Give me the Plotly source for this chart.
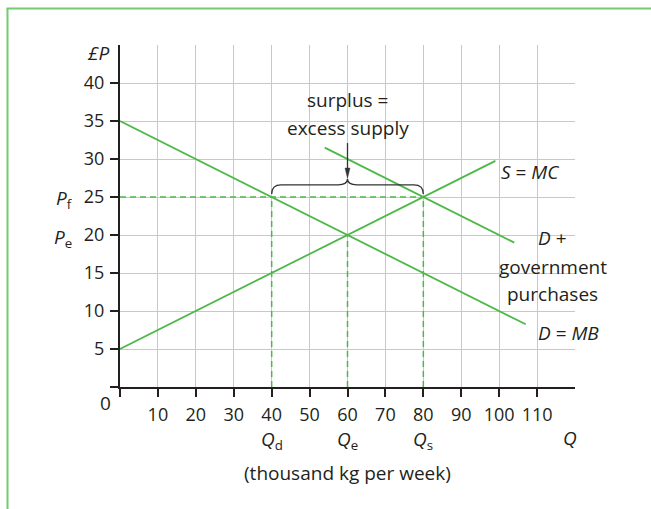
import plotly.graph_objects as go

# ---- data ----
x_ticks = [10, 20, 30, 40, 50, 60, 70, 80, 90, 100, 110]
x_ticktext = ["10", "20", "30", "40", "50", "60", "70", "80", "90", "100", "110"]
y_ticks = [5, 10, 15, 20, 25, 30, 35, 40]
y_ticktext = ["5", "10", "15", "20", "25", "30", "35", "40"]

demand_q = [0, 107]
demand_p = [35, 8.25]
supply_q = [0, 99]
supply_p = [5, 29.75]
demand_gov_q = [54, 104]
demand_gov_p = [31.5, 19]

Qd, Qe, Qs = 40, 60, 80
Pf, Pe = 25, 20

GREEN = "#4db848"
FONT = "Open Sans"
TXT = "#231f20"
L, R, T, B = 120, 76, 45, 122
W, H = 651, 509
PW, PH = W - L - R, H - T - B

def px(x):
    return (x - L) / PW

def py(y):
    return (H - B - y) / PH

fig = go.Figure()

line_style = dict(color=GREEN, width=1.8)
fig.add_trace(go.Scatter(x=demand_q, y=demand_p, mode="lines", line=line_style, hoverinfo="skip"))
fig.add_trace(go.Scatter(x=supply_q, y=supply_p, mode="lines", line=line_style, hoverinfo="skip"))
fig.add_trace(go.Scatter(x=demand_gov_q, y=demand_gov_p, mode="lines", line=line_style, hoverinfo="skip"))

dash_style = dict(color=GREEN, width=1.5, dash="6px,4px")
fig.add_trace(go.Scatter(x=[0, Qs], y=[Pf, Pf], mode="lines", line=dash_style, hoverinfo="skip"))
fig.add_trace(go.Scatter(x=[Qd, Qd], y=[0, Pf], mode="lines", line=dash_style, hoverinfo="skip"))
fig.add_trace(go.Scatter(x=[Qe, Qe], y=[0, Pe], mode="lines", line=dash_style, hoverinfo="skip"))
fig.add_trace(go.Scatter(x=[Qs, Qs], y=[0, Pf], mode="lines", line=dash_style, hoverinfo="skip"))

# brace over surplus
b0, b1, b2 = Pf + 0.4, Pf + 1.6, Pf + 2.4
mid = (Qd + Qs) / 2
brace = (f"M {Qd},{b0} Q {Qd},{b1} {Qd+2.5},{b1} L {mid-2.5},{b1} "
         f"Q {mid},{b1} {mid},{b2} Q {mid},{b1} {mid+2.5},{b1} "
         f"L {Qs-2.5},{b1} Q {Qs},{b1} {Qs},{b0}")
shapes = [dict(type="path", path=brace, xref="x", yref="y",
               line=dict(color="#333333", width=1.3))]

# arrow from label to brace
tip = b2 + 0.1
shapes.append(dict(type="line", xref="x", yref="y", x0=mid, x1=mid, y0=32.1, y1=tip + 1.0,
                   line=dict(color="#333333", width=1.3)))
shapes.append(dict(type="path", xref="x", yref="y",
                   path=f"M {mid-0.65},{tip+1.3} L {mid+0.65},{tip+1.3} L {mid},{tip} Z",
                   fillcolor="#333333", line=dict(color="#333333", width=0.5)))

# green frame
shapes.append(dict(type="line", xref="paper", yref="paper",
                   x0=px(7.5), x1=px(7.5), y0=py(515), y1=py(8.5),
                   line=dict(color="#72cc6e", width=2)))
shapes.append(dict(type="line", xref="paper", yref="paper",
                   x0=px(6.5), x1=px(660), y0=py(8.5), y1=py(8.5),
                   line=dict(color="#72cc6e", width=2)))

ann = []
def t(x, y, text, xanchor="center", size=19):
    ann.append(dict(x=x, y=y, xref="x", yref="y", text=text, showarrow=False,
                    xanchor=xanchor, yanchor="middle",
                    font=dict(family=FONT, size=size, color=TXT)))

def tp(x, y, text, size=19):
    ann.append(dict(x=px(x), y=py(y), xref="paper", yref="paper", text=text,
                    showarrow=False, xanchor="center", yanchor="middle",
                    font=dict(family=FONT, size=size, color=TXT)))

t(60, 37.7, "surplus =")
t(60, 34.1, "excess supply")
t(100, 28.3, "<i>S</i> = <i>MC</i>", xanchor="left")
t(114.1, 19.6, "<i>D</i> +")
t(114.1, 15.8, "government")
t(114.1, 12.3, "purchases")
t(118.3, 7.1, "<i>D</i> = <i>MB</i>")

tp(97.5, 53, "<i>£P</i>")
tp(64, 199, "<i>P</i><sub>f</sub>")
tp(62.5, 238, "<i>P</i><sub>e</sub>")
tp(105, 403, "0")
tp(271.7, 440, "<i>Q</i><sub>d</sub>")
tp(347.7, 440, "<i>Q</i><sub>e</sub>")
tp(423.3, 440, "<i>Q</i><sub>s</sub>")
tp(570, 438, "<i>Q</i>")
tp(347.5, 473, "(thousand kg per week)")

fig.update_layout(
    width=W, height=H,
    margin=dict(l=L, r=R, t=T, b=B, autoexpand=False),
    paper_bgcolor="white", plot_bgcolor="white",
    showlegend=False,
    shapes=shapes, annotations=ann,
    font=dict(family=FONT, size=18, color=TXT),
)
common = dict(showgrid=True, gridcolor="#c8c8c8", gridwidth=1.2,
              showline=True, linecolor="#231f20", linewidth=2,
              ticks="outside", ticklen=8, tickwidth=2, tickcolor="#231f20",
              zeroline=False, ticklabelstandoff=2, automargin=False,
              tickfont=dict(family=FONT, size=18, color=TXT),
              minor=dict(tickvals=[0], ticks="outside", ticklen=8, tickwidth=2,
                         tickcolor="#231f20", showgrid=False))
fig.update_xaxes(range=[0, 120], tickvals=x_ticks, ticktext=x_ticktext, **common)
fig.update_yaxes(range=[0, 45], tickvals=y_ticks, ticktext=y_ticktext, **common)

fig.write_html("out.html", config={"displayModeBar": False},
               post_script="document.body.style.margin='0';")
